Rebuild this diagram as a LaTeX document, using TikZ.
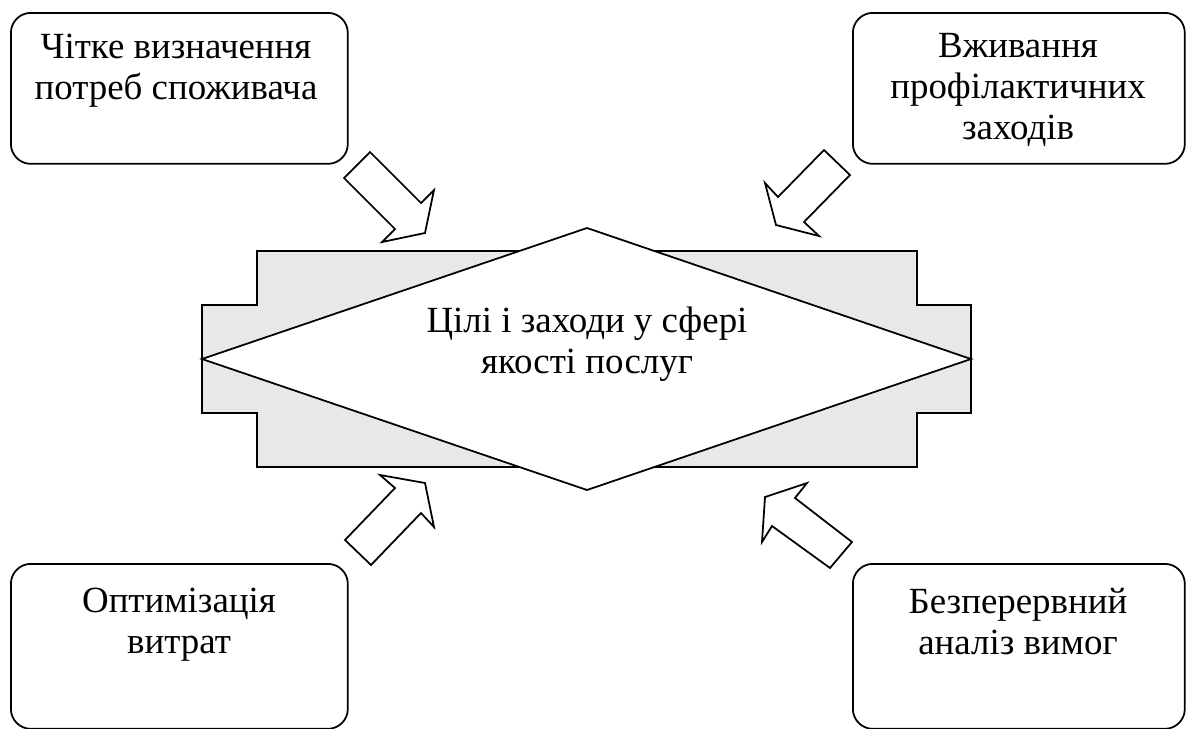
\documentclass[tikz,border=0pt]{standalone}
\usepackage{fontspec}
\setmainfont{Liberation Serif}
\tikzset{
  box/.style={draw, rounded corners=0.4cm, line width=1pt, inner sep=0pt, anchor=north west},
  txt/.style={align=center, inner sep=0pt, anchor=north, font=\fontsize{21}{23.3}\selectfont},
  blockarrow/.style={draw, fill=white, line width=1pt, line join=miter},
}
\definecolor{crossgray}{HTML}{E8E8E8}
\begin{document}
\begin{tikzpicture}[x=0.02cm, y=-0.02cm]
\useasboundingbox (0,0) rectangle (1187,728);
% corner boxes
\node[box, minimum width=6.74cm, minimum height=3.02cm] (need) at (10,12) {};
\node[box, minimum width=6.64cm, minimum height=3.02cm] (prevent) at (852,12) {};
\node[box, minimum width=6.74cm, minimum height=3.3cm] (cost) at (10,563) {};
\node[box, minimum width=6.64cm, minimum height=3.3cm] (review) at (852,563) {};
\node[txt] (needtxt) at (176,34) {Чітке визначення\\потреб споживача};
\node[txt] (preventtxt) at (1018,33) {Вживання\\профілактичних\\заходів};
\node[txt] (costtxt) at (179,588) {Оптимізація\\витрат};
\node[txt] (reviewtxt) at (1018,588) {Безперервний\\аналіз вимог};
% central figure
\draw[line width=1pt, fill=crossgray] (257,251) -- (917,251) -- (917,305) -- (971,305) -- (971,413) -- (917,413)
  -- (917,467) -- (257,467) -- (257,413) -- (202,413) -- (202,305) -- (257,305) -- cycle;
\coordinate (west) at (202,359);
\coordinate (north) at (587,228);
\coordinate (east) at (971,359);
\coordinate (south) at (587,490);
\draw[line width=1pt, fill=white] (west) -- (north) -- (east) -- (south) -- cycle;
\node[txt] (goals) at (587,307) {Цілі і заходи у сфері\\якості послуг};
% block arrows
\draw[blockarrow] (370,152) -- (421,203) -- (434,190) -- (425,233) -- (382,242) -- (395,229) -- (344,178) -- cycle;
\draw[blockarrow] (850,175) -- (804,222) -- (819,236) -- (776,225) -- (765,183) -- (778,197) -- (824,150) -- cycle;
\draw[blockarrow] (371,565) -- (421,513) -- (434,527) -- (425,483) -- (380,475) -- (395,488) -- (345,540) -- cycle;
\draw[blockarrow] (852,542) -- (795,498) -- (807,483) -- (765,497) -- (762,542) -- (772,526) -- (830,568) -- cycle;
\end{tikzpicture}
\end{document}
